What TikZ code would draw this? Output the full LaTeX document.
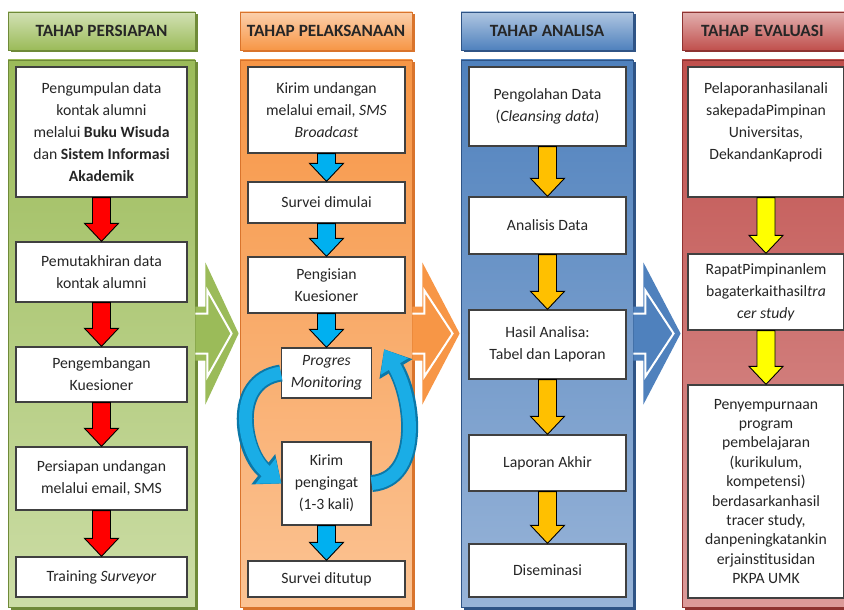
\documentclass[tikz,border=0pt]{standalone}
\usepackage{fontspec}
\setmainfont{Carlito}
\usepackage{xcolor}
\usetikzlibrary{
    arrows.meta,
    positioning,
    calc,
    shadows,
}

\definecolor{grnBase}{HTML}{9BBB59}
\definecolor{grnLight}{HTML}{CCDDA6}
\definecolor{grnDark}{HTML}{6F8A38}
\definecolor{orgBase}{HTML}{F79646}
\definecolor{orgLight}{HTML}{FBC393}
\definecolor{orgDark}{HTML}{D9742C}
\definecolor{bluBase}{HTML}{4F81BD}
\definecolor{bluLight}{HTML}{98B4D8}
\definecolor{bluDark}{HTML}{2F5486}
\definecolor{redBase}{HTML}{C0504D}
\definecolor{redLight}{HTML}{DC9B9A}
\definecolor{redDark}{HTML}{8E3331}
\definecolor{arrRed}{HTML}{FF0000}
\definecolor{arrCyan}{HTML}{00B0F0}
\definecolor{arrAmber}{HTML}{FFC000}
\definecolor{arrYellow}{HTML}{FFFF00}
\definecolor{loopBlue}{HTML}{1AADE6}
\definecolor{loopDark}{HTML}{0B78A8}

\newcommand{\stepfont}{\fontsize{15.7}{22}\selectfont}
\newcommand{\phasefont}{\fontsize{17.2}{20}\selectfont\bfseries}

% block arrow from one step down to the next
\newcommand{\flowarrow}[3]{%
    \fill[black!40, xshift=2.5pt, yshift=-2.5pt]
        let \p1=(#2.south), \p2=(#3.north) in
        (\x1-9pt,\y1) -- (\x1-9pt,\y2+18pt) -- (\x1-17pt,\y2+18pt) -- (\x1,\y2)
        -- (\x1+17pt,\y2+18pt) -- (\x1+9pt,\y2+18pt) -- (\x1+9pt,\y1) -- cycle;
    \filldraw[fill=#1, draw=black, line width=0.9pt, line join=miter]
        let \p1=(#2.south), \p2=(#3.north) in
        (\x1-9pt,\y1) -- (\x1-9pt,\y2+18pt) -- (\x1-17pt,\y2+18pt) -- (\x1,\y2)
        -- (\x1+17pt,\y2+18pt) -- (\x1+9pt,\y2+18pt) -- (\x1+9pt,\y1) -- cycle;
}

% hollow arrow from one phase to the next
\newcommand{\phasearrow}[3]{%
    \fill[#1]
        let \p1=(#2.east), \p2=(#3.west) in
        (\x1,\y1+27pt) -- (\x1+10pt,\y1+27pt) -- (\x1+10pt,\y1+71pt) -- (\x2-1pt,\y1)
        -- (\x1+10pt,\y1-71pt) -- (\x1+10pt,\y1-27pt) -- (\x1,\y1-27pt) -- cycle;
    \draw[white, line width=2pt, line join=miter]
        let \p1=(#2.east), \p2=(#3.west) in
        (\x1,\y1+20pt) -- (\x1+12pt,\y1+20pt) -- (\x1+12pt,\y1+43pt) -- (\x2-8pt,\y1)
        -- (\x1+12pt,\y1-43pt) -- (\x1+12pt,\y1-20pt) -- (\x1,\y1-20pt);
}

\begin{document}
\begin{tikzpicture}[
        x=1pt, y=-1pt,
        header/.style={
            rectangle, draw=#1Dark, line width=0.8pt,
            top color=#1Base!45!white, bottom color=#1Base,
            minimum height=38pt, font=\phasefont, text=black!85,
            drop shadow={shadow xshift=2.5pt, shadow yshift=-2.5pt, fill=#1Dark, opacity=1}
        },
        panel/.style={
            rectangle, draw=#1Dark, line width=0.8pt,
            top color=#1Base, bottom color=#1Light,
            minimum height=547pt,
            drop shadow={shadow xshift=2.5pt, shadow yshift=-2.5pt, fill=#1Dark, opacity=1}
        },
        stepbox/.style={
            rectangle, draw=black!75, line width=1.3pt, fill=white,
            align=center, font=\stepfont, text=black!85, inner sep=2pt
        },
        loopshade/.style={line width=17pt, draw=loopDark, -{Triangle[length=23pt, width=37pt]}},
        loopedge/.style={line width=13pt, draw=loopBlue, -{Triangle[length=20pt, width=31pt]}},
    ]

    \clip (0,0) rectangle (844,610);
    \fill[white] (0,0) rectangle (844,610);

    % ── Phase headers and panels ──
    \node[header=grn, minimum width=187pt] (hdrA) at (101.5,31) {TAHAP PERSIAPAN};
    \node[panel=grn, minimum width=187pt] (colA) at (101.5,333.5) {};
    \node[header=org, minimum width=172pt] (hdrB) at (326,31) {TAHAP PELAKSANAAN};
    \node[panel=org, minimum width=172pt] (colB) at (326,333.5) {};
    \node[header=blu, minimum width=172pt] (hdrC) at (547,31) {TAHAP ANALISA};
    \node[panel=blu, minimum width=172pt] (colC) at (547,333.5) {};
    \node[header=red, minimum width=172pt, text width=150pt, align=left] (hdrD) at (768,31) {\hspace*{8pt}TAHAP EVALUASI};
    \node[panel=red, minimum width=172pt] (colD) at (768,333.5) {};

    % ── Arrows between phases ──
    \phasearrow{grnBase}{colA}{colB}
    \phasearrow{orgBase}{colB}{colC}
    \phasearrow{bluBase}{colC}{colD}

    % ── Tahap persiapan ──
    \node[stepbox, minimum width=171pt, minimum height=130pt] (prep1) at (101.5,132)
        {Pengumpulan data\\kontak alumni\\melalui \textbf{Buku Wisuda}\\dan \textbf{Sistem Informasi}\\\textbf{Akademik}};
    \node[stepbox, minimum width=171pt, minimum height=60pt] (prep2) at (101.5,272)
        {Pemutakhiran data\\kontak alumni};
    \node[stepbox, minimum width=171pt, minimum height=55pt] (prep3) at (101.5,374.5)
        {Pengembangan\\Kuesioner};
    \node[stepbox, minimum width=171pt, minimum height=63pt] (prep4) at (101.5,478.5)
        {Persiapan undangan\\melalui email, SMS};
    \node[stepbox, minimum width=171pt, minimum height=40pt] (prep5) at (101.5,577)
        {Training \textit{Surveyor}};

    % ── Tahap pelaksanaan ──
    \node[stepbox, minimum width=157pt, minimum height=86pt] (exec1) at (326.5,110)
        {Kirim undangan\\melalui email, \textit{SMS}\\\textit{Broadcast}};
    \node[stepbox, minimum width=157pt, minimum height=41pt] (exec2) at (326.5,202.5)
        {Survei dimulai};
    \node[stepbox, minimum width=157pt, minimum height=56pt] (exec3) at (326.5,285)
        {Pengisian\\Kuesioner};
    \node[stepbox, minimum width=90pt, minimum height=50pt] (exec4) at (326.5,373)
        {\textit{Progres}\\\textit{Monitoring}};
    \node[stepbox, minimum width=89pt, minimum height=83pt] (exec5) at (326.5,483.5)
        {Kirim\\pengingat\\(1-3 kali)};
    \node[stepbox, minimum width=157pt, minimum height=36pt] (exec6) at (326.5,579)
        {Survei ditutup};

    % ── Tahap analisa ──
    \node[stepbox, minimum width=157pt, minimum height=79pt] (anal1) at (547.5,106.5)
        {Pengolahan Data\\(\textit{Cleansing data})};
    \node[stepbox, minimum width=157pt, minimum height=57pt] (anal2) at (547.5,225.5)
        {Analisis Data};
    \node[stepbox, minimum width=157pt, minimum height=69pt] (anal3) at (547.5,344.5)
        {Hasil Analisa:\\Tabel dan Laporan};
    \node[stepbox, minimum width=157pt, minimum height=56pt] (anal4) at (547.5,463)
        {Laporan Akhir};
    \node[stepbox, minimum width=157pt, minimum height=53pt] (anal5) at (547.5,570.5)
        {Diseminasi};

    % ── Tahap evaluasi ──
    \node[stepbox, minimum width=156pt, minimum height=130pt] (eval1) at (766,132)
        {Pelaporanhasilanali\\sakepadaPimpinan\\Universitas,\\DekandanKaprodi\\\mbox{}};
    \node[stepbox, minimum width=156pt, minimum height=76pt] (eval2) at (766,292)
        {RapatPimpinanlem\\bagaterkaithasil\textit{tra}\\\textit{cer study}};
    \node[stepbox, minimum width=156pt, minimum height=213pt,
          font=\fontsize{15.7}{19.4}\selectfont] (eval3) at (766,491.5)
        {Penyempurnaan\\program\\pembelajaran\\(kurikulum,\\kompetensi)\\berdasarkanhasil\\tracer study,\\danpeningkatankin\\erjainstitusidan\\PKPA UMK};

    % ── Step arrows ──
    \flowarrow{arrRed}{prep1}{prep2}
    \flowarrow{arrRed}{prep2}{prep3}
    \flowarrow{arrRed}{prep3}{prep4}
    \flowarrow{arrRed}{prep4}{prep5}
    \flowarrow{arrCyan}{exec1}{exec2}
    \flowarrow{arrCyan}{exec2}{exec3}
    \flowarrow{arrCyan}{exec3}{exec4}
    \flowarrow{arrCyan}{exec5}{exec6}
    \flowarrow{arrAmber}{anal1}{anal2}
    \flowarrow{arrAmber}{anal2}{anal3}
    \flowarrow{arrAmber}{anal3}{anal4}
    \flowarrow{arrAmber}{anal4}{anal5}
    \flowarrow{arrYellow}{eval1}{eval2}
    \flowarrow{arrYellow}{eval2}{eval3}

    % ── Monitoring loop ──
    \draw[loopshade] (exec4.west) .. controls +(-52,8) and +(-38,-30) .. (exec5.west);
    \draw[loopedge] (exec4.west) .. controls +(-52,8) and +(-38,-30) .. (exec5.west);
    \draw[loopshade] (exec5.east) .. controls +(50,-4) and +(30,50) .. ($(exec4.north east)+(12,2)$);
    \draw[loopedge] (exec5.east) .. controls +(50,-4) and +(30,50) .. ($(exec4.north east)+(12,2)$);

\end{tikzpicture}
\end{document}
